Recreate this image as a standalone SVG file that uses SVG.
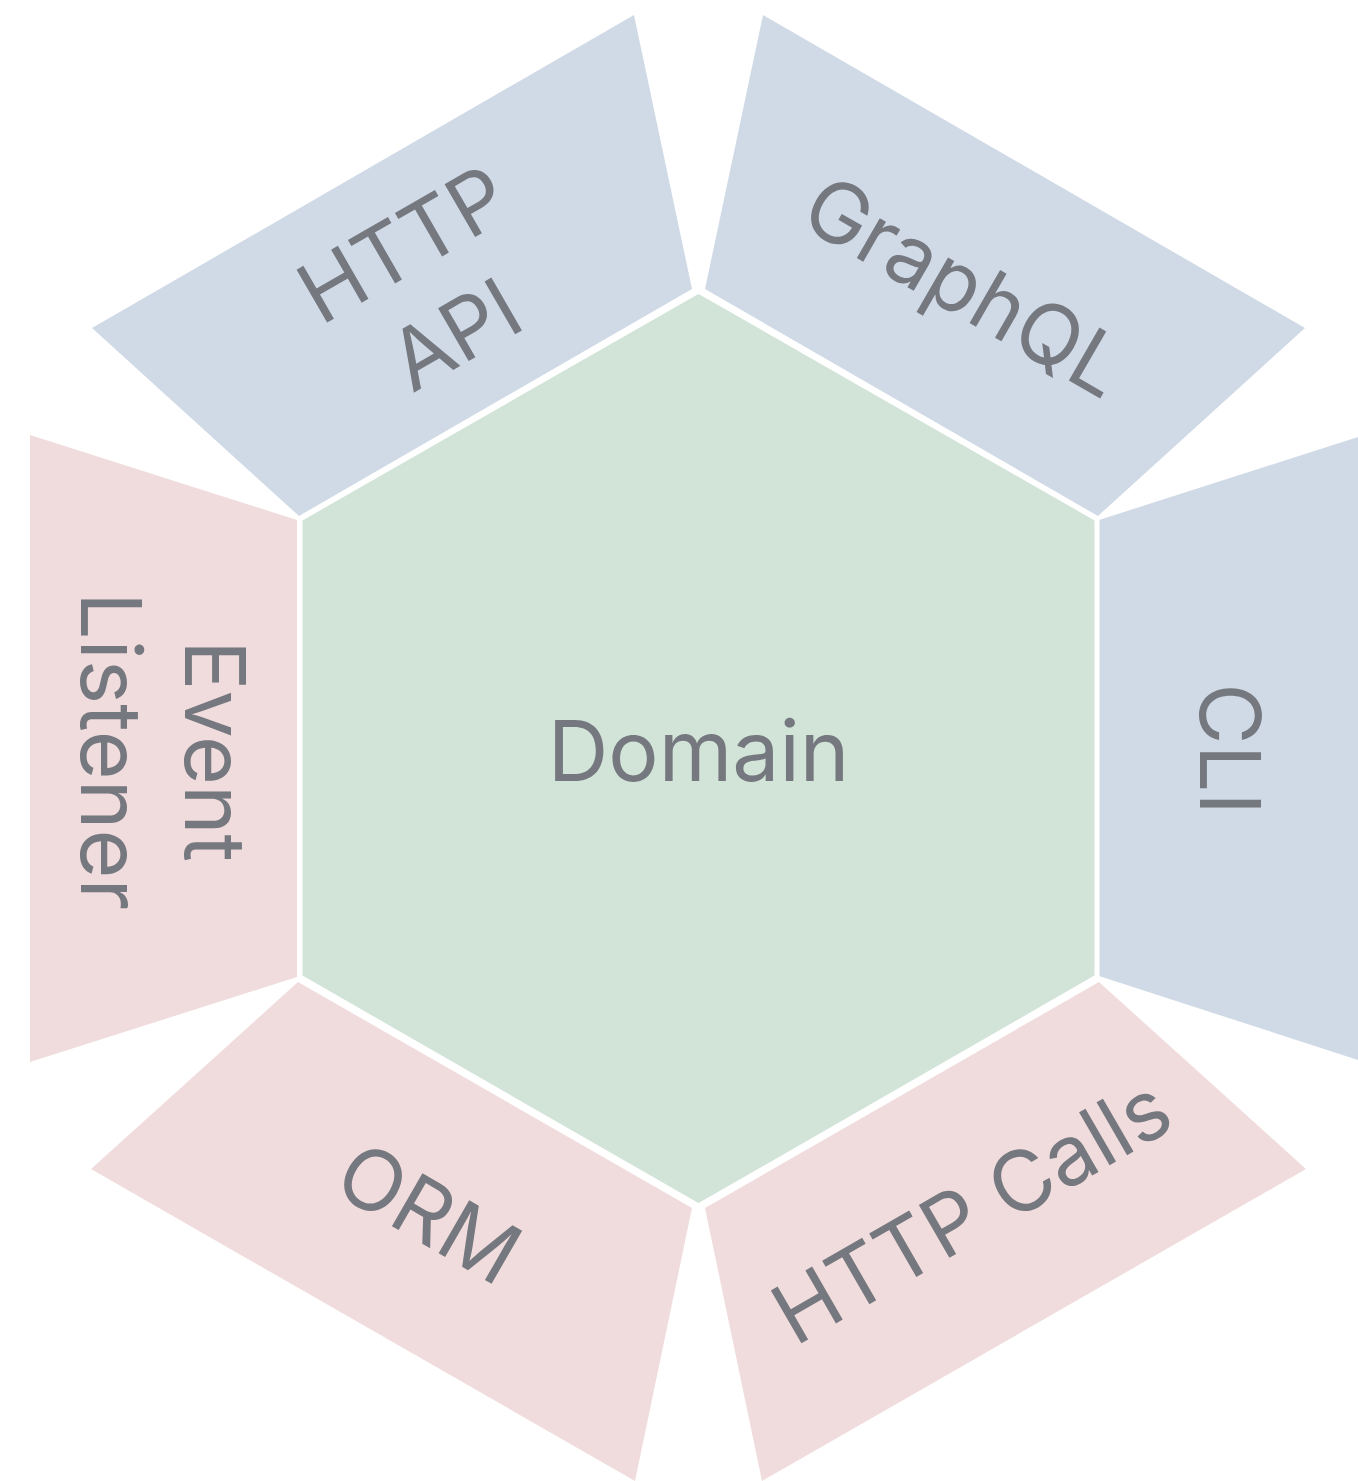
<svg xmlns="http://www.w3.org/2000/svg" width="1358" height="1481" viewBox="0 0 1358 1481">
  <style>
    .inbound { fill: #d0dae6; }
    .outbound { fill: #f1dcdd; }
    .core { fill: #d2e3d8; stroke: #ffffff; stroke-width: 5; stroke-linejoin: miter; }
    .label { font-family: Inter, "Noto Sans", "Liberation Sans", sans-serif; font-size: 84px; fill: #75787f; text-anchor: middle; }
  </style>
  <rect width="1358" height="1481" fill="#ffffff"/>

  <!-- inbound adapters (blue) -->
  <g id="http-api">
    <polygon class="inbound" points="92,328 634,15 692,289 299,516"/>
    <text class="label" transform="rotate(-30)" x="227" y="443">HTTP</text>
    <text class="label" transform="rotate(-30)" x="227" y="547">API</text>
  </g>
  <g id="graphql">
    <polygon class="inbound" points="1305,328 763,15 705,289 1098,516"/>
    <text class="label" transform="rotate(30)" x="979" y="-205">GraphQL</text>
  </g>
  <g id="cli">
    <polygon class="inbound" points="1099,520 1358,437 1358,1060 1099,976"/>
    <text class="label" transform="rotate(90)" x="749" y="-1200">CLI</text>
  </g>

  <!-- outbound adapters (pink) -->
  <g id="event-listener">
    <polygon class="outbound" points="30,435 297,520 297,977 30,1062"/>
    <text class="label" transform="rotate(90)" x="751" y="-185">Event</text>
    <text class="label" transform="rotate(90)" x="751" y="-81">Listener</text>
  </g>
  <g id="orm">
    <polygon class="outbound" points="91,1169 298,982 692,1208 635,1481"/>
    <text class="label" transform="rotate(30)" x="978" y="866">ORM</text>
  </g>
  <g id="http-calls">
    <polygon class="outbound" points="1306,1169 1099,982 705,1208 762,1481"/>
    <text class="label" transform="rotate(-30)" x="236" y="1564">HTTP Calls</text>
  </g>

  <!-- application core -->
  <g id="domain">
    <polygon class="core" points="698.5,291 1097,519 1097,977 698.5,1206 300,977 300,519"/>
    <text class="label" x="698.5" y="781">Domain</text>
  </g>

  <g id="connectors"/>
</svg>
